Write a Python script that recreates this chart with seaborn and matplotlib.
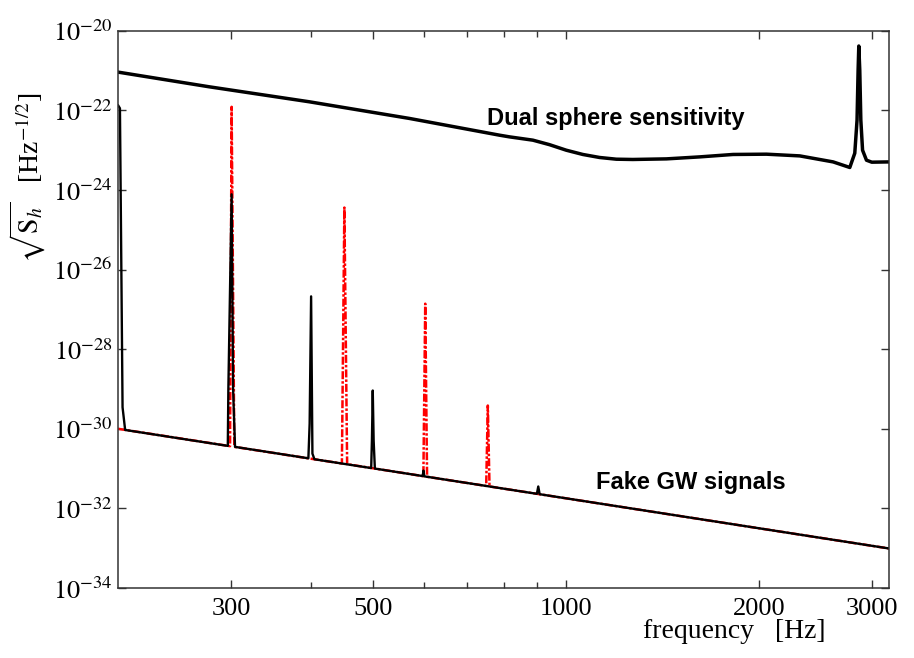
import numpy as np
import pandas as pd
import matplotlib
matplotlib.use("Agg")
import matplotlib.pyplot as plt
from matplotlib.ticker import NullLocator, NullFormatter, FixedLocator
import seaborn as sns

# ---------------- data ----------------
# Dual sphere sensitivity: frequency [Hz] and log10 sqrt(S_h)
sens_freq = [200, 277.5, 397.7, 569.7, 787, 816.1, 887.7, 942.3, 1000.7, 1062, 1128,
             1198, 1271, 1434, 1616, 1822, 2054, 2315, 2610, 2771,
             2821, 2844, 2855, 2862, 2872, 2883, 2901, 2942, 2999, 3190]
sens_log = [-21.04, -21.409, -21.786, -22.204, -22.624, -22.667, -22.750, -22.863, -23.002,
            -23.109, -23.185, -23.228, -23.235, -23.220, -23.170, -23.109, -23.102, -23.145,
            -23.296, -23.436,
            -23.077, -22.247, -20.989, -20.385, -20.989, -22.247, -23.002, -23.253, -23.303,
            -23.296]

# Detector noise with spectral lines (black)
noise_freq = [200.0, 201.4, 203.3, 205.2,
              296.7, 297.3, 300.8, 302.4, 304.5,
              396.3, 398.1, 400.2, 402.1, 405.0,
              496.6, 497.9, 499.4, 501.0, 503.2,
              597.5, 599.2, 601.0,
              900.5, 905.0, 909.5,
              3190.0]
noise_log = [-21.87, -21.95, -29.46, -30.03,
             -30.43, -29.0, -24.11, -29.0, -30.455,
             -30.742, -29.87, -26.674, -30.624, -30.766,
             -30.987, -30.297, -29.039, -30.297, -31.00,
             -31.188, -31.05, -31.195,
             -31.634, -31.45, -31.644,
             -33.007]

# Fake GW signals (red dashed)
gw_freq = [200.0,
           299.1, 300.8, 303.7,
           447.0, 451.0, 455.5,
           599.0, 603.0, 607.0,
           750.6, 755.0, 759.6,
           3190.0]
gw_log = [-30.0,
          -30.437, -21.912, -30.454,
          -30.873, -24.443, -30.890,
          -31.191, -26.858, -31.206,
          -31.436, -29.416, -31.449,
          -33.007]

x_ticks = [300, 500, 1000, 2000, 3000]
x_tick_labels = ["300", "500", "1000", "2000", "3000"]
x_minor = [400, 600, 700, 800, 900]
y_exps = [-20, -22, -24, -26, -28, -30, -32, -34]

# ---------------- style ----------------
sns.set_theme(style="ticks")
plt.rcParams["font.family"] = ["Liberation Serif", "DejaVu Serif"]
plt.rcParams["mathtext.fontset"] = "stix"
plt.rcParams["text.color"] = "black"
plt.rcParams["axes.labelcolor"] = "black"
plt.rcParams["xtick.color"] = "black"
plt.rcParams["ytick.color"] = "black"

fig = plt.figure(figsize=(9.14, 6.58), dpi=100)
ax = fig.add_axes([118 / 914, 1 - 588 / 658, (889 - 118) / 914, (588 - 30.7) / 658])
ax.set_xscale("log")
ax.set_yscale("log")

sens_df = pd.DataFrame({"f": sens_freq, "S": 10.0 ** np.array(sens_log)})
noise_df = pd.DataFrame({"f": noise_freq, "S": 10.0 ** np.array(noise_log)})
gw_df = pd.DataFrame({"f": gw_freq, "S": 10.0 ** np.array(gw_log)})

sns.lineplot(data=gw_df, x="f", y="S", ax=ax, color="#ff0000", lw=1.8,
             linestyle=(0, (3.2, 0.8, 1.0, 0.8)), estimator=None, sort=False)
sns.lineplot(data=noise_df, x="f", y="S", ax=ax, color="black", lw=1.7,
             estimator=None, sort=False)
sns.lineplot(data=sens_df, x="f", y="S", ax=ax, color="black", lw=2.5,
             estimator=None, sort=False)

ax.set_xlim(200, 3190)
ax.set_ylim(1e-34, 1e-20)

ax.xaxis.set_major_locator(FixedLocator(x_ticks))
ax.set_xticklabels(x_tick_labels)
ax.xaxis.set_minor_locator(FixedLocator(x_minor))
ax.xaxis.set_minor_formatter(NullFormatter())
ax.yaxis.set_major_locator(FixedLocator([10.0 ** e for e in y_exps]))
ax.set_yticklabels([r"$10^{%d}$" % e for e in y_exps])
ax.yaxis.set_minor_locator(NullLocator())

ax.tick_params(axis="both", which="both", direction="in", top=True, right=True,
               colors="#333333", labelcolor="black", width=1.0)
ax.tick_params(axis="both", which="major", length=6)
ax.tick_params(axis="both", which="minor", length=4)
ax.tick_params(axis="x", which="major", labelsize=19, pad=7)
ax.tick_params(axis="y", which="major", labelsize=19, pad=4)
for sp in ax.spines.values():
    sp.set_color("#333333")
    sp.set_linewidth(1.1)

ax.set_xlabel("")
ax.set_ylabel("")

fig.text(734 / 914, 1 - 632 / 658, "frequency   [Hz]", fontsize=20,
         ha="center", va="center", color="black")
fig.text(28 / 914, 1 - 178 / 658, r"$\sqrt{\mathrm{S}_h}$   [Hz$^{-1/2}$]", fontsize=20,
         rotation=90, ha="center", va="center", color="black")

bold = dict(family=["Liberation Sans", "DejaVu Sans"], fontweight="bold", fontsize=17,
            color="black")
fig.text(487 / 914, 1 - 118 / 658, "Dual sphere sensitivity", ha="left", va="center", **bold)
fig.text(596 / 914, 1 - 482 / 658, "Fake GW signals", ha="left", va="center", **bold)

fig.savefig("out.png", dpi=100)
